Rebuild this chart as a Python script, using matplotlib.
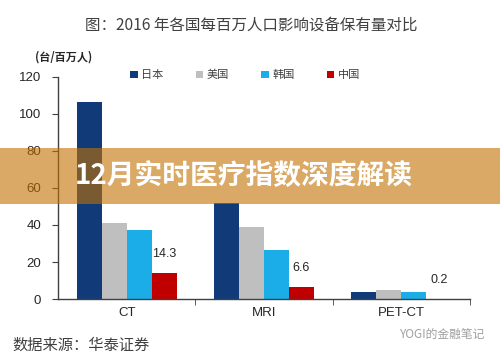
import matplotlib
matplotlib.use("Agg")
import matplotlib.pyplot as plt
import numpy as np
from matplotlib.patches import Rectangle

plt.rcParams['font.family'] = ['Noto Sans CJK SC', 'DejaVu Sans']

categories = ["CT", "MRI", "PET-CT"]
countries = ["日本", "美国", "韩国", "中国"]
japan = [106.5, 52.0, 3.9]
usa = [41.0, 39.0, 4.9]
korea = [37.3, 26.5, 3.8]
china = [14.3, 6.6, 0.2]
colors = ["#103A78", "#BFBFBF", "#1AADE8", "#C00000"]
yticks = [0, 20, 40, 60, 80, 100, 120]

fig = plt.figure(figsize=(5.0, 3.56), dpi=100)
ax = fig.add_axes([0.116, 0.160, 0.824, 0.624])

series = [japan, usa, korea, china]
w = 0.182
x = np.arange(len(categories)) + 0.5
handles = []
for j, (vals, c, name) in enumerate(zip(series, colors, countries)):
    b = ax.bar(x + (j - 1.5) * w, vals, width=w, color=c, label=name, zorder=2)
    handles.append(b)

# data labels for China
for xi, v in zip(x + 1.5 * w, china):
    ax.annotate(f"{v}", (xi, v), xytext=(0, 9), textcoords="offset points",
                ha="center", va="bottom", fontsize=9, color="#262626",
                family=["Liberation Sans", "DejaVu Sans"])

ax.set_xlim(0, 3)
ax.set_ylim(0, 120)
ax.set_yticks(yticks)
ax.set_yticklabels([str(t) for t in yticks], family=["Liberation Sans", "DejaVu Sans"],
                   fontsize=9.5, color="#262626")
ax.set_xticks(x)
ax.set_xticklabels(categories, family=["Liberation Sans", "DejaVu Sans"],
                   fontsize=9.5, color="#262626")
ax.tick_params(axis="x", which="major", length=0, pad=6)
ax.set_xticks([1, 2, 3], minor=True)
ax.tick_params(axis="x", which="minor", length=4, color="#404040", direction="out")
ax.tick_params(axis="y", length=4, color="#404040", pad=8)
for s in ["top", "right"]:
    ax.spines[s].set_visible(False)
for s in ["left", "bottom"]:
    ax.spines[s].set_color("#404040")
    ax.spines[s].set_linewidth(1.0)

fig.text(0.502, 0.930, "图：2016 年各国每百万人口影响设备保有量对比", ha="center", va="center",
         fontsize=11.2, color="#404040")
fig.text(0.07, 0.840, "(台/百万人)", ha="left", va="center", fontsize=8,
         fontweight="bold", color="#262626")

leg = fig.legend(handles=handles, labels=countries, loc="center",
                 bbox_to_anchor=(0.49, 0.789), ncol=4, frameon=False,
                 fontsize=8, handlelength=0.7, handleheight=0.7,
                 handletextpad=0.3, columnspacing=2.9, labelcolor="#404040")

fig.text(0.024, 0.030, "数据来源：华泰证券", ha="left", va="center",
         fontsize=11, color="#404040")
fig.text(0.97, 0.062, "YOGI的金融笔记", ha="right", va="center",
         fontsize=8.5, color="#A0A0A0")

# overlay banner
fig.patches.append(Rectangle((0, 1 - 204 / 356), 1, 56 / 356, transform=fig.transFigure,
                             facecolor="#C27000", alpha=0.6, edgecolor="none", zorder=5))
fig.text(0.15, 1 - 177 / 356, "12月实时医疗指数深度解读", ha="left", va="center",
         fontsize=20, fontweight="heavy", color="white", zorder=6)

fig.savefig("out.png", dpi=100)
